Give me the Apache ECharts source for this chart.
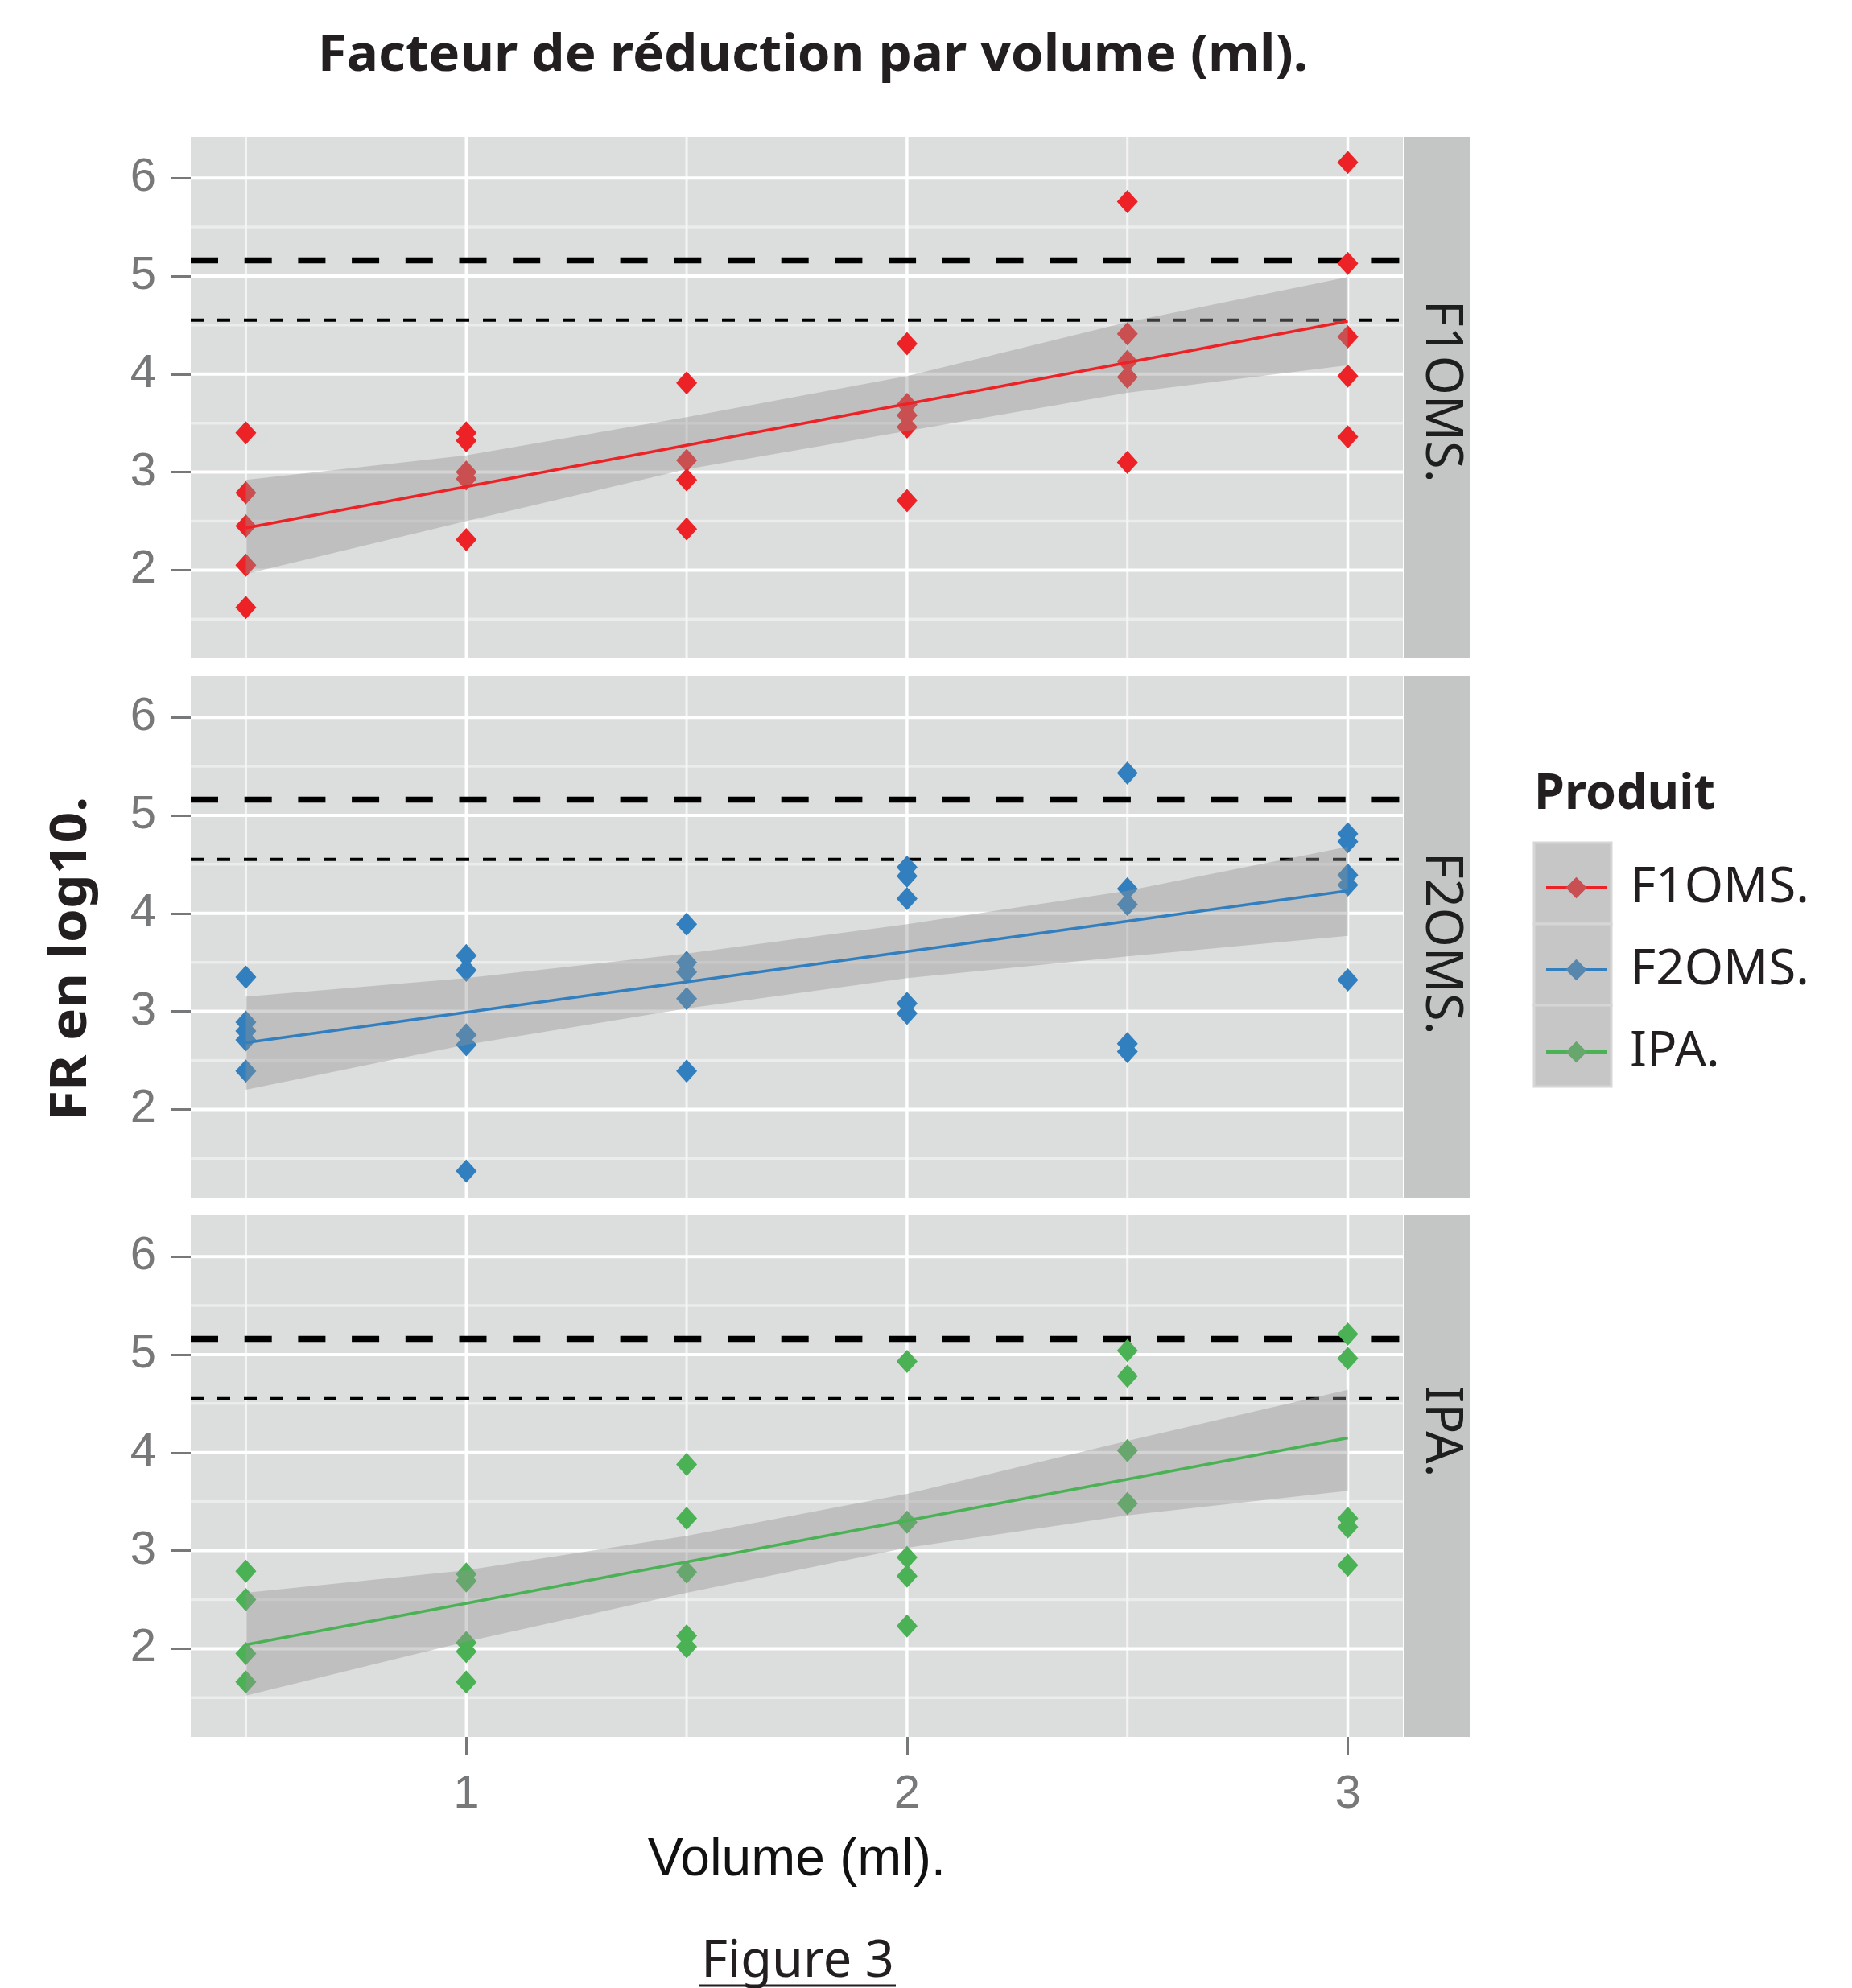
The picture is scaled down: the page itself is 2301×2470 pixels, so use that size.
<!DOCTYPE html>
<html>
<head>
<meta charset="utf-8">
<script src="https://cdn.jsdelivr.net/npm/echarts@6/dist/echarts.min.js"></script>
<style>
  html, body { margin: 0; padding: 0; background: #ffffff; }
  #chart { width: 2301px; height: 2470px; }
</style>
</head>
<body>
<div id="chart"></div>
<script>
// ---------------- data ----------------
const products = ['F1OMS.', 'F2OMS.', 'IPA.'];
const volumes = [0.5, 1, 1.5, 2, 2.5, 3];
const xTickValues = [1, 2, 3];
const yTickValues = [2, 3, 4, 5, 6];
const xMinorGrid = [0.5, 1.5, 2.5];
const yMinorGrid = [1.5, 2.5, 3.5, 4.5, 5.5];
const thresholdDashed = 5.16;
const thresholdDotted = 4.55;

// FR (log10) observations, one list per volume (0.5, 1, 1.5, 2, 2.5, 3 ml)
const f1omsValues = [
  [3.40, 2.79, 2.45, 2.05, 1.62],
  [3.40, 3.32, 3.00, 2.93, 2.31],
  [3.91, 3.12, 2.92, 2.42],
  [4.31, 3.69, 3.58, 3.46, 2.71],
  [5.76, 4.41, 4.13, 3.97, 3.10],
  [6.16, 5.13, 4.38, 3.98, 3.36]
];
const f2omsValues = [
  [3.35, 2.89, 2.80, 2.71, 2.39],
  [3.57, 3.42, 2.76, 2.66, 1.37],
  [3.89, 3.50, 3.40, 3.13, 2.39],
  [4.47, 4.38, 4.15, 3.08, 2.98],
  [5.43, 4.25, 4.09, 2.67, 2.59],
  [4.81, 4.73, 4.39, 4.29, 3.32]
];
const ipaValues = [
  [2.79, 2.50, 1.95, 1.66],
  [2.76, 2.69, 2.06, 1.97, 1.66],
  [3.88, 3.33, 2.78, 2.13, 2.02],
  [4.93, 3.29, 2.93, 2.74, 2.23],
  [5.04, 4.78, 4.02, 3.48],
  [5.21, 4.96, 3.33, 3.24, 2.85]
];

// linear fit, read at volume 0.5 and 3
const fitVolumes = [0.5, 3];
const f1omsFit = [2.43, 4.54];
const f2omsFit = [2.68, 4.23];
const ipaFit = [2.04, 4.15];

// confidence band, read at each volume
const f1omsUpper = [2.92, 3.17, 3.56, 3.98, 4.53, 4.99];
const f1omsLower = [1.96, 2.50, 3.03, 3.42, 3.81, 4.09];
const f2omsUpper = [3.15, 3.34, 3.59, 3.89, 4.23, 4.68];
const f2omsLower = [2.20, 2.66, 3.03, 3.34, 3.56, 3.77];
const ipaUpper = [2.57, 2.80, 3.15, 3.58, 4.12, 4.64];
const ipaLower = [1.52, 2.07, 2.57, 3.03, 3.36, 3.61];

// ---------------- layout / style ----------------
const xMin = 0.375, xMax = 3.125, yMin = 1.10, yMax = 6.42;
const panelLeft = 237, panelWidth = 1506, panelHeight = 648;
const panelTops = [170, 840, 1510];
const stripTextStart = [373, 1059, 1722];
const colors = ['#ED2226', '#317FBE', '#4AB254'];
const mutedColors = ['#C94F52', '#5887AD', '#67A66D'];
const narrowFont = "'Liberation Sans Narrow', 'Liberation Sans', sans-serif";
const mainFont = "'Noto Sans', 'Open Sans', sans-serif";
const tickGray = '#76787A';

const valuesByProduct = [f1omsValues, f2omsValues, ipaValues];
const fitByProduct = [f1omsFit, f2omsFit, ipaFit];
const upperByProduct = [f1omsUpper, f2omsUpper, ipaUpper];
const lowerByProduct = [f1omsLower, f2omsLower, ipaLower];

const gridDefs = [].concat(
  yMinorGrid.map(v => ({ dir: 'h', v: v, stroke: '#EBECEC', w: 3.5 })),
  xMinorGrid.map(v => ({ dir: 'v', v: v, stroke: '#F4F4F4', w: 3 })),
  yTickValues.map(v => ({ dir: 'h', v: v, stroke: '#FFFFFF', w: 4 })),
  xTickValues.map(v => ({ dir: 'v', v: v, stroke: '#FFFFFF', w: 3.5 }))
);
const thresholdDefs = [
  { v: thresholdDashed, dash: [34, 32.7], w: 7.5 },
  { v: thresholdDotted, dash: [16, 17], w: 4 }
];

function lineRender(defs) {
  return function (params, api) {
    const d = defs[params.dataIndex];
    let p1, p2;
    if (d.dir === 'v') { p1 = api.coord([d.v, yMin]); p2 = api.coord([d.v, yMax]); }
    else { p1 = api.coord([xMin, d.v]); p2 = api.coord([xMax, d.v]); }
    const style = { stroke: d.stroke || '#000000', lineWidth: d.w, fill: null };
    if (d.dash) { style.lineDash = d.dash; }
    return { type: 'line', shape: { x1: p1[0], y1: p1[1], x2: p2[0], y2: p2[1] }, style: style };
  };
}

const grids = [], xAxes = [], yAxes = [], series = [];
products.forEach((name, i) => {
  grids.push({ left: panelLeft, width: panelWidth, top: panelTops[i], height: panelHeight,
    show: true, backgroundColor: '#DCDDDD', borderWidth: 0 });
  const isBottom = i === products.length - 1;
  xAxes.push({
    gridIndex: i, type: 'value', min: xMin, max: xMax,
    axisLine: { show: false }, splitLine: { show: false },
    axisTick: { show: isBottom, customValues: xTickValues, length: 22, lineStyle: { color: tickGray, width: 3 } },
    axisLabel: { show: isBottom, customValues: xTickValues, margin: 43, fontSize: 58, color: tickGray, fontFamily: narrowFont },
    name: isBottom ? 'Volume (ml).' : '', nameLocation: 'middle', nameGap: 121,
    nameTextStyle: { fontSize: 66, color: '#111111', fontFamily: narrowFont }
  });
  yAxes.push({
    gridIndex: i, type: 'value', min: yMin, max: yMax,
    axisLine: { show: false }, splitLine: { show: false },
    axisTick: { show: true, customValues: yTickValues, length: 25, lineStyle: { color: tickGray, width: 3 } },
    axisLabel: { customValues: yTickValues, margin: 43, fontSize: 58, color: tickGray, fontFamily: narrowFont }
  });
});

// fitted lines first (legend takes its icon from them)
products.forEach((name, i) => {
  series.push({
    type: 'line', name: name, xAxisIndex: i, yAxisIndex: i, z: 5,
    data: fitVolumes.map((x, k) => [x, fitByProduct[i][k]]),
    symbol: 'diamond', showSymbol: false, silent: true,
    lineStyle: { color: colors[i], width: 3.5 },
    itemStyle: { color: mutedColors[i] }
  });
});
products.forEach((name, i) => {
  series.push({
    type: 'custom', xAxisIndex: i, yAxisIndex: i, z: 1, silent: true, clip: true,
    data: gridDefs.map(d => d.dir === 'v' ? [d.v, yMin] : [xMin, d.v]),
    renderItem: lineRender(gridDefs)
  });
  series.push({
    type: 'custom', xAxisIndex: i, yAxisIndex: i, z: 2, silent: true, clip: true,
    data: thresholdDefs.map(d => [xMin, d.v]),
    renderItem: lineRender(thresholdDefs)
  });
  const pts = [];
  valuesByProduct[i].forEach((list, j) => list.forEach(v => pts.push([volumes[j], v])));
  series.push({
    type: 'scatter', name: name, xAxisIndex: i, yAxisIndex: i, z: 3, silent: true,
    symbol: 'diamond', symbolSize: [26, 29],
    itemStyle: { color: colors[i], opacity: 1 },
    data: pts
  });
  const up = upperByProduct[i], lo = lowerByProduct[i];
  series.push({
    type: 'custom', xAxisIndex: i, yAxisIndex: i, z: 4, silent: true, clip: true,
    data: [[volumes[0], lo[0]]],
    renderItem: function (params, api) {
      const poly = [];
      volumes.forEach((x, k) => poly.push(api.coord([x, up[k]])));
      for (let k = volumes.length - 1; k >= 0; k--) poly.push(api.coord([volumes[k], lo[k]]));
      return { type: 'polygon', shape: { points: poly }, style: { fill: 'rgba(147,147,147,0.4)', stroke: null } };
    }
  });
});

// ---------------- graphic (strips, titles) ----------------
const graphics = [];
products.forEach((name, i) => {
  graphics.push({ type: 'rect', z: 1, shape: { x: panelLeft + panelWidth + 1, y: panelTops[i], width: 83, height: panelHeight },
    style: { fill: '#C4C5C5' }, silent: true });
  graphics.push({ type: 'text', z: 2, x: 1790, y: stripTextStart[i], rotation: -Math.PI / 2, silent: true,
    style: { text: name, fontSize: 63, fontFamily: mainFont, fill: '#1E1E1E', align: 'left', verticalAlign: 'middle' } });
  graphics.push({ type: 'rect', z: 1, shape: { x: 1906, y: 1047 + i * 101, width: 96, height: 101 },
    style: { fill: '#C6C6C6', stroke: '#D6D6D6', lineWidth: 3 }, silent: true });
});
graphics.push({ type: 'text', z: 2, x: 1010, y: 70, scaleX: 1.04, silent: true,
  style: { text: 'Facteur de réduction par volume (ml).', fontSize: 63, fontWeight: 'bold', fontFamily: mainFont,
    fill: '#231F20', align: 'center', verticalAlign: 'middle' } });
graphics.push({ type: 'text', z: 2, x: 89, y: 1191, rotation: Math.PI / 2, scaleX: 1.09, silent: true,
  style: { text: 'FR en log10.', fontSize: 62, fontWeight: 'bold', fontFamily: mainFont,
    fill: '#231F20', align: 'center', verticalAlign: 'middle' } });
graphics.push({ type: 'text', z: 2, x: 1906, y: 988, silent: true,
  style: { text: 'Produit', fontSize: 61, fontWeight: 'bold', fontFamily: mainFont,
    fill: '#231F20', align: 'left', verticalAlign: 'middle' } });
graphics.push({ type: 'text', z: 2, x: 991, y: 2438, silent: true,
  style: { text: 'Figure 3', fontSize: 63, fontFamily: mainFont,
    fill: '#231F20', align: 'center', verticalAlign: 'middle' } });
graphics.push({ type: 'line', z: 2, silent: true, shape: { x1: 868, y1: 2467, x2: 1113, y2: 2467 },
  style: { stroke: '#231F20', lineWidth: 3 } });

const chart = echarts.init(document.getElementById('chart'), null, { renderer: 'canvas' });
chart.setOption({
  backgroundColor: '#FFFFFF',
  animation: false,
  grid: grids,
  xAxis: xAxes,
  yAxis: yAxes,
  legend: {
    orient: 'vertical', left: 1919, top: 1072, padding: 0,
    itemWidth: 75, itemHeight: 33, itemGap: 40, selectedMode: false, z: 10,
    textStyle: { fontSize: 62, fontFamily: mainFont, color: '#231F20', lineHeight: 33, padding: [0, 0, 0, 24] },
    data: products.map((p, i) => ({ name: p, itemStyle: { color: mutedColors[i] }, lineStyle: { color: colors[i], width: 4 } }))
  },
  graphic: { elements: graphics },
  series: series
});
</script>
</body>
</html>
